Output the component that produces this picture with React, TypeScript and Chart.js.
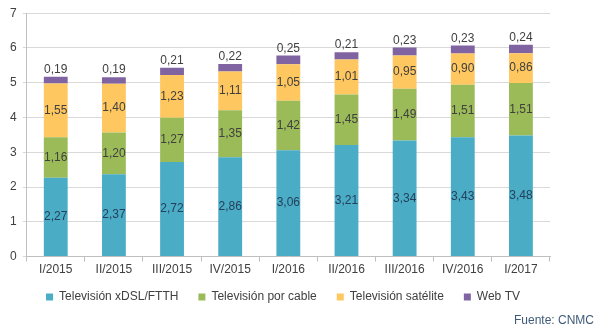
import React, { useEffect, useRef } from "react";
import { Chart, registerables } from "chart.js";

Chart.register(...registerables);

const categories = ["I/2015", "II/2015", "III/2015", "IV/2015", "I/2016", "II/2016", "III/2016", "IV/2016", "I/2017"];
const xdsl = [2.27, 2.37, 2.72, 2.86, 3.06, 3.21, 3.34, 3.43, 3.48];
const cable = [1.16, 1.2, 1.27, 1.35, 1.42, 1.45, 1.49, 1.51, 1.51];
const satelite = [1.55, 1.4, 1.23, 1.11, 1.05, 1.01, 0.95, 0.9, 0.86];
const webtv = [0.19, 0.19, 0.21, 0.22, 0.25, 0.21, 0.23, 0.23, 0.24];
const seriesNames = ["Televisión xDSL/FTTH", "Televisión por cable", "Televisión satélite", "Web TV"];
const yTicks = [0, 1, 2, 3, 4, 5, 6, 7];
const sourceText = "Fuente: CNMC";

const FONT = "'Liberation Sans', Arial, sans-serif";

const labelPlugin = {
  id: "segLabels",
  afterLayout(chart: any) {
    const lg = chart.legend;
    if (lg) {
      lg.top -= 7;
      lg.bottom -= 7;
      lg.left += 6;
      lg.right += 6;
    }
  },
  afterDatasetsDraw(chart: any) {
    const ctx = chart.ctx;
    ctx.save();
    ctx.font = `12px ${FONT}`;
    ctx.textAlign = "center";
    chart.data.datasets.forEach((ds: any, di: number) => {
      const meta = chart.getDatasetMeta(di);
      meta.data.forEach((bar: any, i: number) => {
        const v = ds.data[i];
        const txt = v.toFixed(2).replace(".", ",");
        if (di === 3) {
          ctx.fillStyle = "#404040";
          ctx.textBaseline = "bottom";
          ctx.fillText(txt, bar.x, bar.y - 1);
        } else {
          ctx.fillStyle = di === 0 ? "#24405A" : "#404040";
          ctx.textBaseline = "middle";
          ctx.fillText(txt, bar.x, (bar.y + bar.base) / 2);
        }
      });
    });
    ctx.restore();
  },
  afterDraw(chart: any) {
    const ctx = chart.ctx;
    ctx.save();
    ctx.font = `12px ${FONT}`;
    ctx.fillStyle = "#3E5A78";
    ctx.textAlign = "right";
    ctx.textBaseline = "middle";
    ctx.fillText(sourceText, chart.width - 6, 321);
    ctx.restore();
  },
};

export default function App() {
  const ref = useRef<HTMLCanvasElement>(null);
  useEffect(() => {
    document.body.style.margin = "0";
    const colors = ["#4BACC6", "#9BBB59", "#FFC75F", "#8064A2"];
    const dataArrays = [xdsl, cable, satelite, webtv];
    const chart = new Chart(ref.current!, {
      type: "bar",
      data: {
        labels: categories,
        datasets: dataArrays.map((d, i) => ({
          label: seriesNames[i],
          data: d,
          backgroundColor: colors[i],
          borderWidth: 0,
          barPercentage: 0.41,
          categoryPercentage: 1,
        })),
      },
      options: {
        animation: false,
        responsive: false,
        maintainAspectRatio: false,
        layout: { padding: { top: 6, right: 50, left: 4, bottom: 14 } },
        scales: {
          x: {
            stacked: true,
            grid: { drawOnChartArea: false, drawTicks: true, tickLength: 5, color: "#BFBFBF", offset: true },
            border: { color: "#BFBFBF" },
            ticks: { color: "#404040", font: { family: FONT, size: 12 }, padding: 1, maxRotation: 0 },
          },
          y: {
            stacked: true,
            min: 0,
            max: 7,
            afterBuildTicks: (axis: any) => {
              axis.ticks = yTicks.map((v) => ({ value: v }));
            },
            grid: { color: "#D9D9D9", tickLength: 4 },
            border: { color: "#BFBFBF" },
            ticks: { color: "#404040", font: { family: FONT, size: 12 }, padding: 6 },
          },
        },
        plugins: {
          legend: {
            position: "bottom",
            labels: {
              boxWidth: 7,
              boxHeight: 7,
              color: "#404040",
              font: { family: FONT, size: 12 },
              padding: 20,
            },
          },
          tooltip: { enabled: false },
        },
      },
      plugins: [labelPlugin],
    });
    return () => chart.destroy();
  }, []);
  return <canvas ref={ref} width={600} height={334} style={{ display: "block" }} />;
}
